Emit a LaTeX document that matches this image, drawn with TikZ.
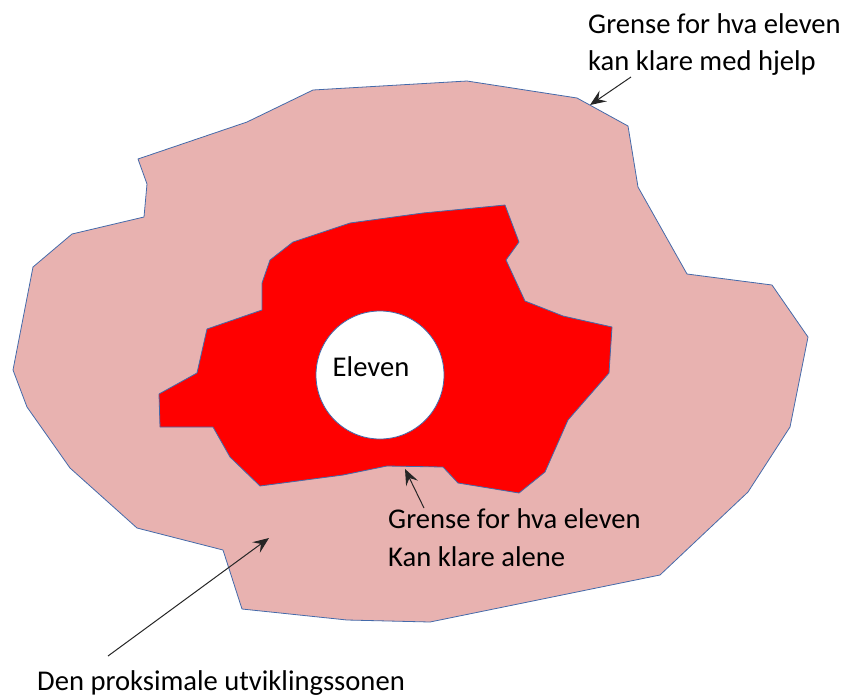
\documentclass[tikz,border=0pt]{standalone}
\usepackage{fontspec}
\setmainfont{Carlito}
\usetikzlibrary{arrows.meta}
\definecolor{zone}{RGB}{232,178,176}
\definecolor{edge}{RGB}{68,106,170}
\definecolor{core}{RGB}{255,0,0}
\tikzset{
  region/.style={draw=edge, line width=0.8pt, line join=round},
  lbl/.style={anchor=base west, inner sep=0pt, font=\fontsize{28.6}{34}\selectfont, text=black},
  pointer/.style={draw=black!85, line width=1pt, -{Stealth[length=16pt, width=13pt, inset=6pt]}}
}
\begin{document}
\begin{tikzpicture}[x=1pt, y=-1pt]
\useasboundingbox (0,0) rectangle (844,697);
% outer zone
\filldraw[region, fill=zone]
 (313,90) -- (247,122) -- (138,159) -- (147,184) -- (144,217) -- (72,234) -- (33,267)
 -- (13,370) -- (27,407) -- (70,468) -- (137,528) -- (223,550) -- (242,609) -- (347,620)
 -- (430,622) -- (660,575) -- (748,492) -- (790,427) -- (808,337) -- (772,285)
 -- (687,274) -- (638,187) -- (628,126) -- (577,98) -- (467,81) -- cycle;
% inner zone
\filldraw[region, fill=core]
 (505,205) -- (519,242) -- (506,260) -- (525,301) -- (563,316) -- (612,327) -- (609,373)
 -- (568,420) -- (545,472) -- (519,493) -- (458,483) -- (443,467) -- (387,466) -- (343,475)
 -- (260,486) -- (230,457) -- (213,427) -- (160,427) -- (159,394) -- (197,373) -- (207,329)
 -- (262,310) -- (262,283) -- (270,260) -- (293,242) -- (350,223) -- (423,213) -- cycle;
% pupil
\node[circle, draw=edge, line width=0.8pt, fill=white, minimum size=128pt, inner sep=0pt] (pupil) at (380,375) {};
\node[anchor=center, inner sep=0pt, font=\fontsize{28.6}{34}\selectfont] (pupiltxt) at (371,367) {Eleven};
% labels
\node[lbl] (helpA) at (588,33) {Grense for hva eleven};
\node[lbl] (helpB) at (588,70) {kan klare med hjelp};
\node[lbl] (aloneA) at (388,528) {Grense for hva eleven};
\node[lbl] (aloneB) at (388,566) {Kan klare alene};
\node[lbl] (zpd) at (37,690) {Den proksimale utviklingssonen};
% arrow ends
\coordinate (helpTail) at (631,77);
\coordinate (helpTip) at (590,105);
\coordinate (aloneTail) at (424,508);
\coordinate (aloneTip) at (405,469);
\coordinate (zpdTail) at (108,656);
\coordinate (zpdTip) at (269,538);
\draw[pointer] (helpTail) -- (helpTip);
\draw[pointer] (aloneTail) -- (aloneTip);
\draw[pointer] (zpdTail) -- (zpdTip);
\end{tikzpicture}
\end{document}
